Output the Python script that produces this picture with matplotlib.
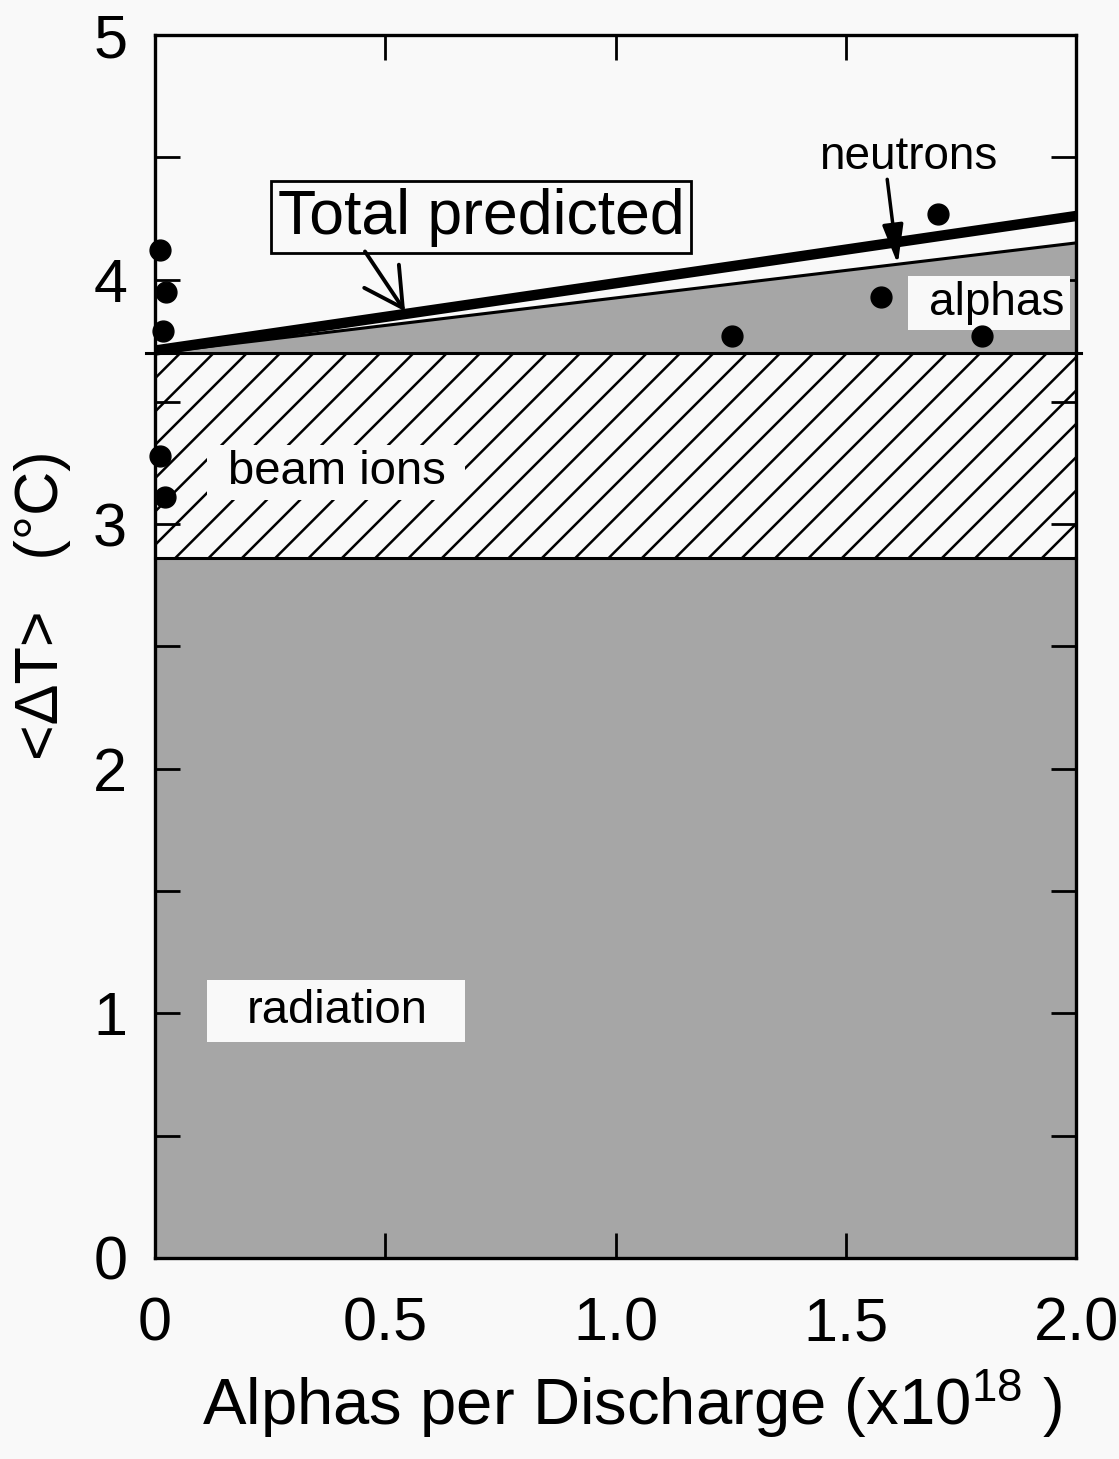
import matplotlib
matplotlib.use("Agg")
import matplotlib.pyplot as plt
from matplotlib.patches import Rectangle
import numpy as np

plt.rcParams['font.family'] = ['Liberation Sans', 'DejaVu Sans']
plt.rcParams['mathtext.fontset'] = 'custom'
plt.rcParams['mathtext.rm'] = 'Liberation Sans'
plt.rcParams['mathtext.it'] = 'Liberation Sans'
plt.rcParams['hatch.linewidth'] = 1.8

# ---- data ----
x_model = [0.0, 2.0]
radiation_top = [2.86, 2.86]
beam_top = [3.70, 3.70]
alphas_top = [3.70, 4.15]
total_pred = [3.71, 4.26]

x_meas = [0.01, 0.025, 0.018, 0.01, 0.022, 1.253, 1.577, 1.70, 1.796]
y_meas = [4.12, 3.95, 3.79, 3.28, 3.11, 3.77, 3.93, 4.27, 3.77]

x_ticks = [0.0, 0.5, 1.0, 1.5, 2.0]
x_ticklabels = ["0", "0.5", "1.0", "1.5", "2.0"]
y_ticks = [0, 1, 2, 3, 4, 5]
y_minor = [0.5, 1.5, 2.5, 3.5, 4.5]

bg = '#f9f9f9'
gray = '#a6a6a6'

fig = plt.figure(figsize=(11.19, 14.59), dpi=100, facecolor=bg)
ax = fig.add_axes([0.1385, 0.1378, 0.8231, 0.8382], facecolor=bg)

# radiation
ax.fill_between(x_model, 0, radiation_top, color=gray, lw=0, zorder=1)
# beam ions (hatched)
ax.fill_between(x_model, radiation_top, beam_top, facecolor=bg, edgecolor='black',
                hatch='/', lw=0, zorder=1)
# alphas
ax.fill_between(x_model, beam_top, alphas_top, color=gray, lw=0, zorder=1)
ax.plot(x_model, alphas_top, color='black', lw=2.2, zorder=3)
# boundary lines
ax.plot(x_model, radiation_top, color='black', lw=2.2, zorder=3, clip_on=False)
ax.plot([x_model[0] - 0.02, x_model[1] + 0.01], beam_top, color='black', lw=2.2,
        zorder=3, clip_on=False)
# total predicted
ax.plot(x_model, total_pred, color='black', lw=7.5, zorder=4, solid_capstyle='butt')

# measurements
ax.plot(x_meas, y_meas, 'o', color='black', ms=15, zorder=5, clip_on=False)

ax.set_xlim(0, 2.0)
ax.set_ylim(0, 5)
ax.set_xticks(x_ticks)
ax.set_xticklabels(x_ticklabels)
ax.set_yticks(y_ticks)
ax.set_yticks(y_minor, minor=True)
ax.tick_params(which='both', direction='in', length=18, width=2, top=True, right=True,
               labelsize=44, color='black')
ax.tick_params(axis='y', pad=20)
ax.tick_params(axis='x', pad=28)
for s in ax.spines.values():
    s.set_linewidth(2.4)
    s.set_zorder(6)

# label boxes
ax.add_patch(Rectangle((0.113, 3.099), 0.56, 0.225, facecolor=bg, edgecolor='none', zorder=2))
ax.add_patch(Rectangle((0.113, 0.883), 0.56, 0.254, facecolor=bg, edgecolor='none', zorder=2))
ax.add_patch(Rectangle((1.635, 3.794), 0.352, 0.221, facecolor=bg, edgecolor='none', zorder=2))

ax.text(0.395, 3.213, "beam ions", fontsize=34, ha='center', va='center', zorder=7)
ax.text(0.395, 1.01, "radiation", fontsize=34, ha='center', va='center', zorder=7)
ax.text(1.828, 3.904, "alphas", fontsize=33, ha='center', va='center', zorder=7)
ax.text(1.635, 4.50, "neutrons", fontsize=33, ha='center', va='center', zorder=7)

ax.text(0.708, 4.255, "Total predicted", fontsize=45, ha='center', va='center', zorder=7,
        bbox=dict(boxstyle='square,pad=0.1', facecolor=bg, edgecolor='black', lw=2))

ax.annotate('', xy=(0.543, 3.87), xytext=(0.456, 4.115),
            arrowprops=dict(arrowstyle='->,head_length=0.55,head_width=0.3', lw=2.8,
                            color='black', mutation_scale=50, shrinkA=0, shrinkB=0),
            zorder=7)
ax.annotate('', xy=(1.613, 4.063), xytext=(1.590, 4.41),
            arrowprops=dict(arrowstyle='-|>,head_length=0.6,head_width=0.16', lw=2.5,
                            color='black', mutation_scale=40, shrinkA=0, shrinkB=0),
            zorder=7)

ax.set_xlabel("Alphas per Discharge (x10$^{18}$ )", fontsize=47)
ax.xaxis.label.set_verticalalignment('baseline')
ax.xaxis.set_label_coords(0.518, -0.1366)
ax.set_ylabel("<ΔT>   (°C)", fontsize=44)
ax.yaxis.label.set_verticalalignment('center')
ax.yaxis.set_label_coords(-0.1216, 0.534)

fig.savefig("out.png", dpi=100, facecolor=bg)
